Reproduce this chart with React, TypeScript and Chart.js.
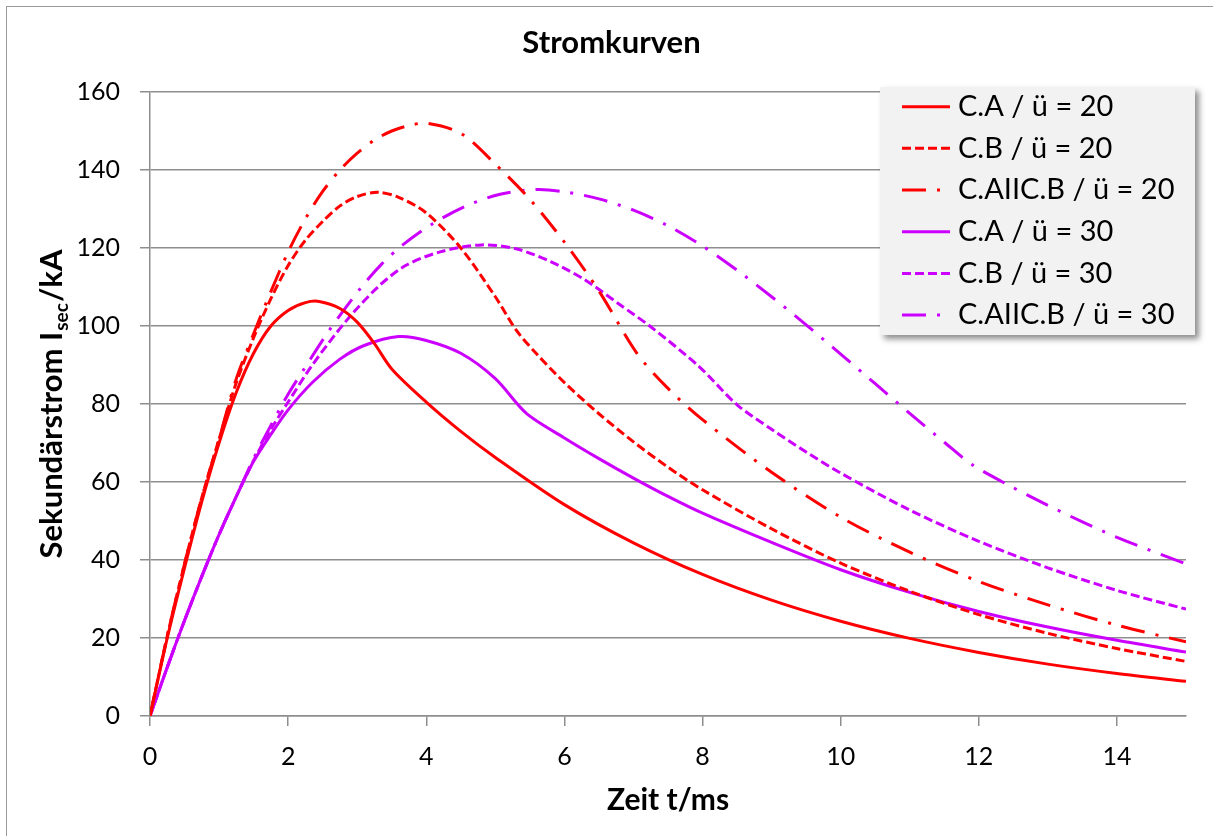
import React, { useEffect, useRef } from 'react';
import { Chart, registerables } from 'chart.js';

Chart.register(...registerables);

// ---------- texts ----------
const chartTitle = 'Stromkurven';
const xAxisTitle = 'Zeit t/ms';
const yTitleMain = 'Sekundärstrom I';
const yTitleSub = 'sec';
const yTitleEnd = '/kA';

// ---------- axes ----------
const xMin = 0;
const xMax = 15;
const xStep = 2;
const yMin = 0;
const yMax = 160;
const yStep = 20;

// ---------- series labels ----------
const seriesLabels = [
  'C.A / ü = 20',
  'C.B / ü = 20',
  'C.AIIC.B / ü = 20',
  'C.A / ü = 30',
  'C.B / ü = 30',
  'C.AIIC.B / ü = 30',
];

// ---------- data (time in ms, current in kA) ----------
const tA20 = [0, 0.25, 0.5, 0.75, 1, 1.25, 1.5, 1.75, 2, 2.25, 2.45, 2.75, 3, 3.25, 3.5, 4, 4.5, 5, 6, 7, 8, 9, 10, 11, 12, 13, 14, 15];
const vA20 = [0, 20, 38, 55, 70, 83, 93, 100, 104, 106, 106.3, 104.5, 101, 95.5, 89, 80.5, 73, 66.3, 54.2, 44.4, 36.3, 29.7, 24.3, 19.9, 16.3, 13.3, 10.9, 8.9];

const tB20 = [0, 0.25, 0.5, 0.75, 1, 1.25, 1.5, 1.75, 2, 2.25, 2.5, 2.75, 3, 3.3, 3.6, 4, 4.5, 5, 5.3, 5.6, 6, 6.5, 7, 7.5, 8, 9, 10, 11, 12, 13, 14, 15];
const vB20 = [0, 20.5, 39, 56, 71, 85.5, 97, 107, 115.5, 122, 126.8, 130.8, 133.2, 134.3, 133, 129, 120, 107.5, 99, 92.8, 85.5, 77.5, 70.3, 63.8, 58, 48, 39.2, 32, 26, 21.2, 17.3, 14];

const tAB20 = [0, 0.25, 0.5, 0.75, 1, 1.25, 1.5, 1.75, 2, 2.25, 2.5, 2.75, 3, 3.25, 3.5, 3.75, 4, 4.5, 5, 5.5, 6, 6.5, 7.05, 7.5, 8, 9, 10, 11, 12, 13, 14, 15];
const vAB20 = [0, 20.5, 39, 56, 71, 86.5, 98, 108.8, 119, 127.5, 134.5, 140, 144.3, 147.7, 150, 151.4, 152, 149.4, 141.5, 132.5, 121.5, 109, 93, 84, 76, 62.5, 51, 42, 34.5, 28.5, 23.3, 19];

const tA30 = [0, 0.25, 0.5, 0.75, 1, 1.25, 1.5, 1.75, 2, 2.35, 2.75, 3.1, 3.6, 4, 4.5, 5, 5.45, 6, 6.5, 7, 7.5, 8, 9, 10, 11, 12, 13, 14, 15];
const vA30 = [0, 12.5, 24.5, 35.8, 46.5, 56.3, 65.3, 72.2, 78.5, 85.5, 91.5, 95, 97.3, 96.3, 93, 86.5, 77.6, 71.3, 66, 61, 56.3, 52, 44.5, 37.5, 31.7, 26.8, 22.8, 19.4, 16.4];

const tB30 = [0, 0.25, 0.5, 0.75, 1, 1.25, 1.5, 1.75, 2, 2.35, 2.85, 3.3, 3.7, 4.2, 4.8, 5.3, 5.8, 6.3, 6.8, 7.25, 7.95, 8.5, 9, 9.5, 10, 11, 12, 13, 14, 15];
const vB30 = [0, 12.5, 24.5, 35.8, 46.5, 56.3, 65.5, 73.5, 80.5, 90, 101.5, 110, 115.5, 119, 120.8, 119.8, 116.5, 111.8, 105.5, 99.8, 89.6, 79.8, 73.5, 67.7, 62.3, 52.8, 44.8, 38, 32.2, 27.4];

const tAB30 = [0, 0.25, 0.5, 0.75, 1, 1.25, 1.5, 1.75, 2, 2.25, 2.6, 3.04, 3.35, 3.66, 4.1, 4.58, 5.07, 5.6, 6, 6.5, 7, 7.5, 8, 8.5, 9, 9.5, 10, 10.5, 11, 11.5, 11.9, 12.43, 13, 13.5, 14, 15];
const vAB30 = [0, 12.5, 24.5, 35.8, 46.5, 56.3, 66, 74.5, 82.5, 89.5, 99, 109.5, 115.8, 120.8, 126.3, 130.8, 133.8, 135, 134.4, 132.6, 129.7, 125.7, 120.5, 114.3, 107.5, 100.3, 92.8, 85.2, 77.6, 70.2, 64.5, 59.2, 54, 49.8, 45.8, 39];

const seriesTimes = [tA20, tB20, tAB20, tA30, tB30, tAB30];
const seriesValues = [vA20, vB20, vAB20, vA30, vB30, vAB30];

// ---------- styles ----------
const RED = '#ff0000';
const PURPLE = '#cc00ff';
const seriesColors = [RED, RED, RED, PURPLE, PURPLE, PURPLE];
const DASHED = [9, 4];
const DASHDOT = [24, 11, 3, 11];
const seriesDashes: number[][] = [[], DASHED, DASHDOT, [], DASHED, DASHDOT];
const GRID = '#8e8e8e';
const FONT = 'Lato, Carlito, Calibri, "Open Sans", sans-serif';

const boxLegendPlugin = {
  id: 'boxLegend',
  afterDraw(chart: any) {
    const ctx: CanvasRenderingContext2D = chart.ctx;
    const area = chart.chartArea;
    const x0 = area.right - 306;
    const y0 = area.top - 5;
    const w = 315;
    const h = 248;
    ctx.save();
    ctx.shadowColor = 'rgba(0,0,0,0.45)';
    ctx.shadowBlur = 6;
    ctx.shadowOffsetX = 4;
    ctx.shadowOffsetY = 4;
    ctx.fillStyle = '#f2f2f2';
    ctx.fillRect(x0, y0, w, h);
    ctx.restore();
    chart.data.datasets.forEach((ds: any, i: number) => {
      const y = y0 + 19.7 + i * 41.67;
      ctx.save();
      ctx.strokeStyle = ds.borderColor;
      ctx.lineWidth = 3;
      ctx.setLineDash(ds.borderDash || []);
      ctx.beginPath();
      ctx.moveTo(x0 + 22, y);
      ctx.lineTo(x0 + 70, y);
      ctx.stroke();
      ctx.restore();
      ctx.save();
      ctx.fillStyle = '#000';
      ctx.font = `29px ${FONT}`;
      ctx.textBaseline = 'middle';
      ctx.textAlign = 'left';
      ctx.fillText(ds.label, x0 + 78, y);
      ctx.restore();
    });
  },
};

const yTitlePlugin = {
  id: 'yTitleSub',
  afterDraw(chart: any) {
    const ctx: CanvasRenderingContext2D = chart.ctx;
    const area = chart.chartArea;
    const cy = (area.top + area.bottom) / 2;
    const bx = 62;
    ctx.save();
    ctx.translate(bx, cy);
    ctx.rotate(-Math.PI / 2);
    ctx.fillStyle = '#000';
    ctx.textBaseline = 'alphabetic';
    ctx.textAlign = 'left';
    const mainFont = `bold 31px ${FONT}`;
    const subFont = `bold 19px ${FONT}`;
    ctx.font = mainFont;
    const w1 = ctx.measureText(yTitleMain).width;
    const w3 = ctx.measureText(yTitleEnd).width;
    ctx.font = subFont;
    const w2 = ctx.measureText(yTitleSub).width;
    const total = w1 + w2 + w3 + 2;
    let x = -total / 2;
    ctx.font = mainFont;
    ctx.fillText(yTitleMain, x, 0);
    x += w1 + 1;
    ctx.font = subFont;
    ctx.fillText(yTitleSub, x, 6);
    x += w2 + 1;
    ctx.font = mainFont;
    ctx.fillText(yTitleEnd, x, 0);
    ctx.restore();
  },
};

export default function App() {
  const canvasRef = useRef<HTMLCanvasElement | null>(null);

  useEffect(() => {
    if (!canvasRef.current) return;
    Chart.defaults.font.family = FONT;
    const datasets = seriesLabels.map((label, i) => ({
      label,
      data: seriesTimes[i].map((t, j) => ({ x: t, y: seriesValues[i][j] })),
      borderColor: seriesColors[i],
      backgroundColor: seriesColors[i],
      borderWidth: 3,
      borderDash: seriesDashes[i],
      borderCapStyle: 'butt' as const,
      pointRadius: 0,
      pointHoverRadius: 0,
      fill: false,
      tension: 0.3,
    }));

    const chart = new Chart(canvasRef.current, {
      type: 'line',
      data: { datasets },
      options: {
        animation: false,
        responsive: false,
        devicePixelRatio: 1,
        layout: { padding: { left: 37, right: 27, top: 0, bottom: 0 } },
        plugins: {
          legend: { display: false },
          tooltip: { enabled: false },
          title: {
            display: true,
            text: chartTitle,
            color: '#000',
            font: { size: 31, weight: 'bold', family: FONT, lineHeight: 1.2 },
            padding: { top: 24, bottom: 30.8 },
          },
        },
        scales: {
          x: {
            type: 'linear',
            min: xMin,
            max: xMax,
            afterBuildTicks: (scale: any) => {
              scale.ticks = scale.ticks.filter((t: any) => t.value % xStep === 0);
            },
            afterFit: (scale: any) => {
              scale.height = 120;
            },
            ticks: {
              stepSize: xStep,
              color: '#000',
              font: { size: 25, family: FONT },
              padding: 16,
              maxRotation: 0,
              autoSkip: false,
            },
            grid: {
              display: true,
              drawOnChartArea: false,
              drawTicks: true,
              tickLength: 10,
              color: GRID,
              lineWidth: 1.5,
            },
            border: { display: true, color: GRID, width: 1.5 },
            title: {
              display: true,
              text: xAxisTitle,
              color: '#000',
              font: { size: 30, weight: 'bold', family: FONT, lineHeight: 1.2 },
              padding: { top: 0, bottom: 18 },
            },
          },
          y: {
            type: 'linear',
            min: yMin,
            max: yMax,
            afterFit: (scale: any) => {
              scale.width = 113;
            },
            ticks: {
              stepSize: yStep,
              color: '#000',
              font: { size: 25, family: FONT },
              padding: 20,
            },
            grid: {
              display: true,
              drawOnChartArea: true,
              drawTicks: true,
              tickLength: 10,
              color: GRID,
              lineWidth: 1.5,
            },
            border: { display: true, color: GRID, width: 1.5 },
          },
        },
      },
      plugins: [boxLegendPlugin, yTitlePlugin],
    });
    return () => chart.destroy();
  }, []);

  return (
    <div
      style={{
        position: 'absolute',
        left: 0,
        top: 0,
        width: 1213,
        height: 836,
        overflow: 'hidden',
        background: '#fff',
      }}
    >
      <canvas
        ref={canvasRef}
        width={1213}
        height={836}
        style={{ position: 'absolute', left: 0, top: 0, width: 1213, height: 836 }}
      />
      <div
        style={{
          position: 'absolute',
          left: 6,
          top: 6,
          width: 1260,
          height: 900,
          border: '1.5px solid #9a9a9a',
          pointerEvents: 'none',
        }}
      />
    </div>
  );
}
